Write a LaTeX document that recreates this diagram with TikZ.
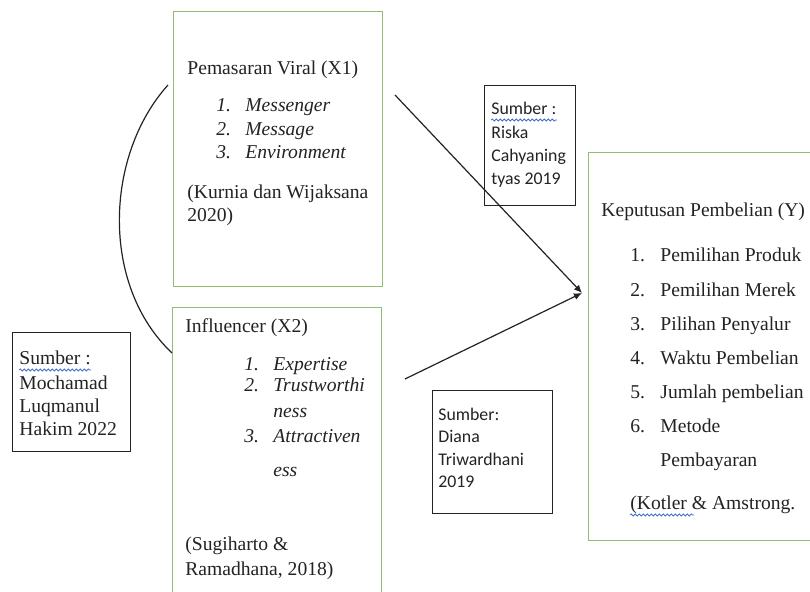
\documentclass[tikz,border=0pt]{standalone}
\usepackage{fontspec}
\setmainfont{Liberation Serif}
\newfontfamily\calibri{Carlito}
\usetikzlibrary{arrows.meta,decorations.pathmorphing}

\definecolor{boxgreen}{RGB}{146,190,110}
\definecolor{inkgray}{RGB}{35,35,35}
\definecolor{spellblue}{RGB}{70,110,200}

\tikzset{
  varbox/.style={draw=boxgreen, line width=0.6pt, anchor=north west, inner sep=0pt},
  srcbox/.style={draw=inkgray, line width=0.6pt, anchor=north west, inner sep=0pt},
  txt/.style={anchor=base west, inner sep=0pt, text=inkgray, align=left,
    font=\fontsize{9.8}{11.75}\selectfont},
  sanstxt/.style={txt, font=\calibri\fontsize{8.9}{11.6}\selectfont},
  spell/.style={spellblue, line width=0.4pt, decorate,
    decoration={snake, amplitude=0.5pt, segment length=2pt}},
  link/.style={-{Latex[length=4pt,width=3.5pt]}, line width=0.6pt, inkgray}
}

\begin{document}
\begin{tikzpicture}[x=0.5pt, y=-0.5pt]
  \fill[white] (0,0) rectangle (810,592);
  \useasboundingbox (0,0) rectangle (810,592);

  % variable boxes
  \node[varbox, minimum width=104.5pt, minimum height=137.5pt] (x1) at (173,11) {};
  \node[varbox, minimum width=104.5pt, minimum height=150pt] (x2) at (172,307) {};
  \node[varbox, minimum width=120pt, minimum height=194pt] (y) at (588,152) {};

  % source boxes
  \node[srcbox, minimum width=59pt, minimum height=59.5pt] (srcm) at (12,332) {};
  \node[srcbox, minimum width=45.5pt, minimum height=60pt] (srcr) at (484,85) {};
  \node[srcbox, minimum width=60pt, minimum height=61.5pt] (srcd) at (432,390) {};

  % X1 (multi-line nodes sit on their last line)
  \node[txt] (x1title) at (187,75) {Pemasaran Viral (X1)};
  \node[txt, font=\itshape\fontsize{9.8}{11.75}\selectfont] (x1num) at (216,159) {1.\\2.\\3.};
  \node[txt, font=\itshape\fontsize{9.8}{11.75}\selectfont] (x1ind) at (245,159)
    {Messenger\\Message\\Environment};
  \node[txt] (x1ref) at (187,222) {(Kurnia dan Wijaksana\\2020)};

  % X2
  \node[txt] (x2title) at (185,333) {Influencer (X2)};
  \foreach \yy/\n/\w in {371/1./Expertise, 392/2./Trustworthi, 418//ness,
                         443/3./Attractiven, 477//ess} {
    \node[txt, font=\itshape\fontsize{9.8}{11.75}\selectfont] at (244,\yy) {\n};
    \node[txt, font=\itshape\fontsize{9.8}{11.75}\selectfont] at (273,\yy) {\w};
  }
  \node[txt, font=\fontsize{9.8}{12.5}\selectfont] (x2ref) at (185,576)
    {(Sugiharto \&\\Ramadhana, 2018)};

  % Y
  \node[txt] (ytitle) at (601,217) {Keputusan Pembelian (Y)};
  \foreach \w [count=\i] in {Pemilihan Produk, Pemilihan Merek, Pilihan Penyalur,
                             Waktu Pembelian, Jumlah pembelian, Metode} {
    \node[txt] at (630,{262+(\i-1)*34.2}) {\i.};
    \node[txt] at (660,{262+(\i-1)*34.2}) {\w};
  }
  \node[txt] (ypay) at (660,467) {Pembayaran};
  \node[txt] (yref) at (630,510) {(Kotler \& Amstrong.};
  \draw[spell] ([yshift=-2.5pt]yref.base west) -- ++(32pt,0);

  % sources
  \node[txt] (msum) at (19,365) {Sumber :};
  \draw[spell] ([yshift=-2.5pt]msum.base west) -- ([yshift=-2.5pt]msum.base east);
  \node[txt, font=\fontsize{9.8}{11.6}\selectfont] at (19,436) {Mochamad\\Luqmanul\\Hakim 2022};

  \node[sanstxt] (rsum) at (491,115) {Sumber :};
  \draw[spell] ([yshift=-2.5pt]rsum.base west) -- ([yshift=-2.5pt]rsum.base east);
  \node[sanstxt] at (491,185) {Riska\\Cahyaning\\tyas 2019};

  \node[sanstxt, font=\calibri\fontsize{8.9}{11.3}\selectfont] at (438,488)
    {Sumber:\\Diana\\Triwardhani\\2019};

  % connectors
  \coordinate (x1out) at (395,95);
  \coordinate (x2out) at (405,379);
  \coordinate (yin) at (582,293);
  \coordinate (arctop) at (168,85);
  \coordinate (arcbot) at (172,353);
  \draw[link] (x1out) -- (yin);
  \draw[link] (x2out) -- (yin);
  \draw[inkgray, line width=0.6pt] (arctop) .. controls (105,155) and (100,285) .. (arcbot);
\end{tikzpicture}
\end{document}
